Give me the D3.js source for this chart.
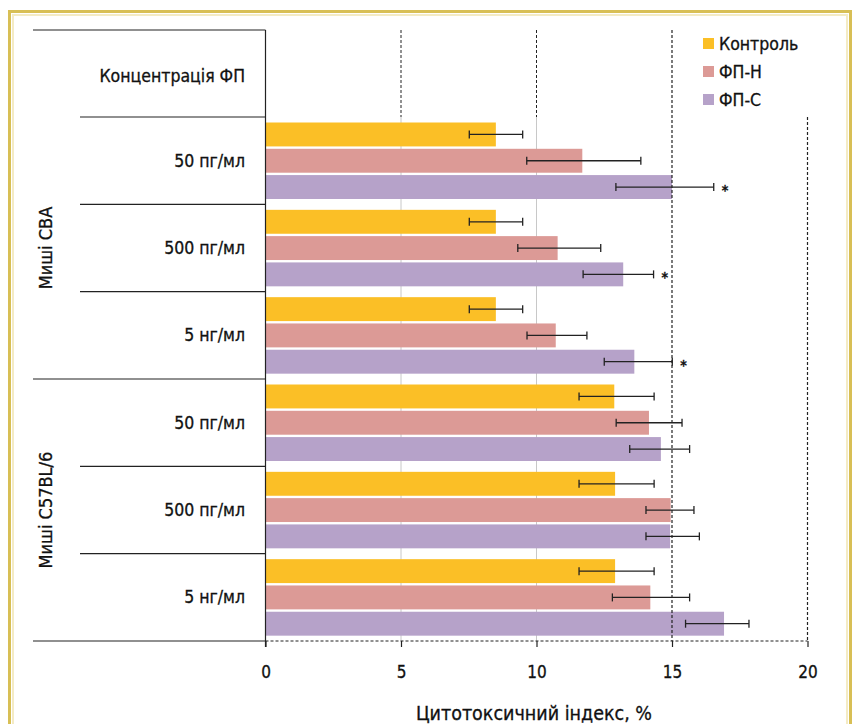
<!DOCTYPE html>
<html>
<head>
<meta charset="utf-8">
<script src="https://cdn.jsdelivr.net/npm/d3@7"></script>
<style>
  html, body { margin: 0; padding: 0; background: #fff; }
  svg { display: block; }
  text { font-family: "DejaVu Sans Condensed", "Liberation Sans Narrow", "Roboto", sans-serif; fill: #111; stroke: #111; stroke-width: 0.3px; }
</style>
</head>
<body>
<svg id="chart" width="859" height="724"></svg>
<script>
// ---- data ----
const concentrations = ["50 пг/мл", "500 пг/мл", "5 нг/мл", "50 пг/мл", "500 пг/мл", "5 нг/мл"];
const strains = ["Миші CBA", "Миші C57BL/6"];
const strainOfRow = [0, 0, 0, 1, 1, 1];
const seriesNames = ["Контроль", "ФП-Н", "ФП-С"];
const control = [8.5, 8.5, 8.5, 12.87, 12.9, 12.9];
const controlLo = [7.52, 7.52, 7.52, 11.57, 11.57, 11.57];
const controlHi = [9.49, 9.49, 9.49, 14.34, 14.34, 14.34];
const fpN = [11.69, 10.78, 10.71, 14.15, 14.95, 14.2];
const fpNLo = [9.64, 9.31, 9.65, 12.94, 14.04, 12.8];
const fpNHi = [13.85, 12.37, 11.86, 15.37, 15.81, 15.65];
const fpS = [15.0, 13.2, 13.61, 14.59, 14.93, 16.92];
const fpSLo = [12.93, 11.72, 12.5, 13.44, 14.04, 15.5];
const fpSHi = [16.54, 14.32, 15.01, 15.65, 16.01, 17.84];
const significant = [true, true, true, false, false, false];
const xTicks = [0, 5, 10, 15, 20];
const xTitle = "Цитотоксичний індекс, %";
const headerLabel = "Концентрація ФП";

const colors = ["#fbbf26", "#dc9a96", "#b6a2c9"];

const values = [control, fpN, fpS];
const los = [controlLo, fpNLo, fpSLo];
const his = [controlHi, fpNHi, fpSHi];

const svg = d3.select("#chart");

// frame
svg.append("rect").attr("x", 9.5).attr("y", 11.5).attr("width", 841).attr("height", 760)
  .attr("fill", "none").attr("stroke", "#d8bf55").attr("stroke-width", 3);
svg.append("rect").attr("x", 13).attr("y", 15).attr("width", 834).attr("height", 760)
  .attr("fill", "none").attr("stroke", "#f4ebc4").attr("stroke-width", 2);

const x = d3.scaleLinear().domain([0, 20]).range([265.5, 807.5]);
const rowIdx = d3.range(concentrations.length);
const y0 = d3.scaleBand().domain(rowIdx).range([117, 641]).padding(0);
const y1 = d3.scaleBand().domain(d3.range(3)).range([5.5, 82]).paddingInner(0.09);

const yTop = 30, headerBottom = 117, yBottom = 641;

// light gridlines in bar area
[5, 10].forEach(v => {
  svg.append("line").attr("x1", x(v)).attr("x2", x(v)).attr("y1", headerBottom).attr("y2", yBottom)
    .attr("stroke", "#c8c8c8").attr("stroke-width", 1);
});

// bars
const g = svg.append("g");
rowIdx.forEach(r => {
  for (let s = 0; s < 3; s++) {
    g.append("rect")
      .attr("x", x(0))
      .attr("y", y0(r) + y1(s))
      .attr("width", x(values[s][r]) - x(0))
      .attr("height", y1.bandwidth())
      .attr("fill", colors[s]);
  }
});

// dashed gridlines
[5, 10].forEach(v => {
  svg.append("line").attr("x1", x(v)).attr("x2", x(v)).attr("y1", yTop).attr("y2", headerBottom)
    .attr("stroke", "#222").attr("stroke-width", 1).attr("stroke-dasharray", "3,2");
});
svg.append("line").attr("x1", x(15)).attr("x2", x(15)).attr("y1", yTop).attr("y2", yBottom)
  .attr("stroke", "#222").attr("stroke-width", 1.2).attr("stroke-dasharray", "3,2");
svg.append("line").attr("x1", x(20)).attr("x2", x(20)).attr("y1", headerBottom).attr("y2", yBottom)
  .attr("stroke", "#222").attr("stroke-width", 1.2).attr("stroke-dasharray", "3,2");

// error bars
rowIdx.forEach(r => {
  for (let s = 0; s < 3; s++) {
    const cy = y0(r) + y1(s) + y1.bandwidth() / 2;
    const eg = svg.append("g").attr("stroke", "#222").attr("stroke-width", 1.3);
    eg.append("line").attr("x1", x(los[s][r])).attr("x2", x(his[s][r])).attr("y1", cy).attr("y2", cy);
    eg.append("line").attr("x1", x(los[s][r])).attr("x2", x(los[s][r])).attr("y1", cy - 4).attr("y2", cy + 4);
    eg.append("line").attr("x1", x(his[s][r])).attr("x2", x(his[s][r])).attr("y1", cy - 4).attr("y2", cy + 4);
  }
  if (significant[r]) {
    const cy = y0(r) + y1(2) + y1.bandwidth() / 2;
    svg.append("text").attr("x", x(fpSHi[r]) + 8).attr("y", cy + 8)
      .attr("font-size", 14).attr("font-weight", "bold").text("*");
  }
});

// table lines
const lineG = svg.append("g").attr("stroke", "#222").attr("stroke-width", 1.2);
lineG.append("line").attr("x1", x(0)).attr("x2", x(0)).attr("y1", yTop).attr("y2", yBottom + 6);
lineG.append("line").attr("x1", 33).attr("x2", x(0)).attr("y1", yTop).attr("y2", yTop);
lineG.append("line").attr("x1", 80).attr("x2", x(0)).attr("y1", headerBottom).attr("y2", headerBottom);
rowIdx.slice(1).forEach(r => {
  const full = strainOfRow[r] !== strainOfRow[r - 1];
  lineG.append("line").attr("x1", full ? 33 : 80).attr("x2", x(0)).attr("y1", y0(r)).attr("y2", y0(r));
});
lineG.append("line").attr("x1", 33).attr("x2", x(0)).attr("y1", yBottom).attr("y2", yBottom);
svg.append("line").attr("x1", x(0)).attr("x2", x(20)).attr("y1", yBottom).attr("y2", yBottom)
  .attr("stroke", "#222").attr("stroke-width", 1.2).attr("stroke-dasharray", "3,2");

// x axis
const axis = d3.axisBottom(x).tickValues(xTicks).tickSize(6).tickPadding(19).tickFormat(d3.format("d"));
const ax = svg.append("g").attr("transform", `translate(0,${yBottom})`).call(axis);
ax.select(".domain").remove();
ax.selectAll(".tick line").attr("stroke", "#222").attr("stroke-width", 1.2);
ax.selectAll(".tick text").attr("font-size", 17).attr("fill", "#111")
  .style("font-family", '"DejaVu Sans Condensed", "Liberation Sans Narrow", Roboto, sans-serif');

svg.append("text").attr("x", 534).attr("y", 720).attr("text-anchor", "middle")
  .attr("font-size", 19.5).text(xTitle);

// header & row labels
svg.append("text").attr("x", 245).attr("y", 82).attr("text-anchor", "end")
  .attr("font-size", 17.5).text(headerLabel);
rowIdx.forEach(r => {
  svg.append("text").attr("x", 245).attr("y", y0(r) + y0.bandwidth() / 2 + 6)
    .attr("text-anchor", "end").attr("font-size", 17.5).text(concentrations[r]);
});

// strain labels
strains.forEach((s, i) => {
  const rows = rowIdx.filter(r => strainOfRow[r] === i);
  const cy = (y0(rows[0]) + y0(rows[rows.length - 1]) + y0.bandwidth()) / 2;
  svg.append("text").attr("transform", `translate(52,${cy}) rotate(-90)`)
    .attr("text-anchor", "middle").attr("font-size", 18).text(s);
});

// legend
const leg = svg.append("g");
seriesNames.forEach((n, i) => {
  const ly = 44 + i * 28;
  leg.append("rect").attr("x", 703).attr("y", ly - 6).attr("width", 11).attr("height", 11).attr("fill", colors[i]);
  leg.append("text").attr("x", 719).attr("y", ly + 6).attr("font-size", 17.5).text(n);
});
</script>
</body>
</html>
